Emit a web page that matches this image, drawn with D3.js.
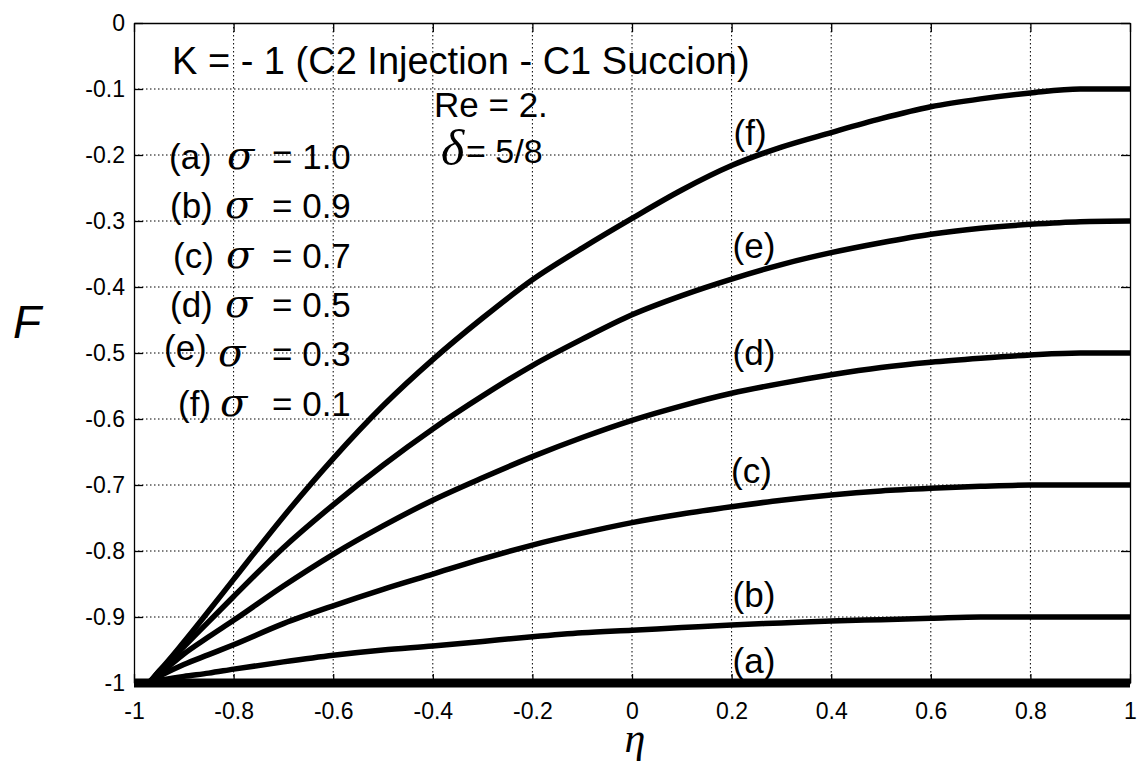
<!DOCTYPE html>
<html>
<head>
<meta charset="utf-8">
<script src="https://cdn.jsdelivr.net/npm/d3@7"></script>
<style>
	body { margin: 0; background: #fff; }
	svg { display: block; }
</style>
</head>
<body>
<svg id="chart" width="1137" height="763"></svg>
<script>
var eta = [-1, -0.975, -0.95, -0.9, -0.85, -0.8, -0.7, -0.6, -0.5, -0.4, -0.3, -0.2, -0.1, 0, 0.1, 0.2, 0.3, 0.4, 0.5, 0.6, 0.7, 0.8, 0.9, 1];

var curveA = [-1, -1, -1, -1, -1, -1, -1, -1, -1, -1, -1, -1, -1, -1, -1, -1, -1, -1, -1, -1, -1, -1, -1, -1];
var curveB = [-1, -1, -0.996, -0.99, -0.985, -0.979, -0.968, -0.958, -0.95, -0.944, -0.937, -0.93, -0.924, -0.92, -0.916, -0.912, -0.909, -0.906, -0.904, -0.902, -0.9, -0.9, -0.9, -0.9];
var curveC = [-1, -1, -0.99, -0.972, -0.957, -0.942, -0.91, -0.883, -0.858, -0.835, -0.812, -0.791, -0.773, -0.757, -0.744, -0.733, -0.723, -0.715, -0.709, -0.705, -0.702, -0.7, -0.7, -0.7];
var curveD = [-1, -1, -0.987, -0.956, -0.93, -0.905, -0.853, -0.805, -0.762, -0.723, -0.689, -0.657, -0.628, -0.602, -0.58, -0.561, -0.546, -0.533, -0.522, -0.514, -0.508, -0.503, -0.5, -0.5];
var curveE = [-1, -1, -0.983, -0.945, -0.907, -0.869, -0.795, -0.73, -0.67, -0.615, -0.565, -0.519, -0.479, -0.442, -0.413, -0.388, -0.366, -0.348, -0.333, -0.32, -0.311, -0.305, -0.301, -0.3];
var curveF = [-1, -1, -0.982, -0.938, -0.891, -0.843, -0.748, -0.66, -0.58, -0.51, -0.447, -0.389, -0.341, -0.296, -0.253, -0.216, -0.188, -0.166, -0.145, -0.127, -0.115, -0.106, -0.1, -0.1];

var curveTags = ["(a)", "(b)", "(c)", "(d)", "(e)", "(f)"];
var sigmaValues = ["1.0", "0.9", "0.7", "0.5", "0.3", "0.1"];
// where each curve tag sits (eta, F)
var tagEta = [0.245, 0.245, 0.24, 0.245, 0.245, 0.237];
var tagF = [-0.967, -0.867, -0.678, -0.499, -0.337, -0.167];

var xTicks = [-1, -0.8, -0.6, -0.4, -0.2, 0, 0.2, 0.4, 0.6, 0.8, 1];
var xTickLabels = ["-1", "-0.8", "-0.6", "-0.4", "-0.2", "0", "0.2", "0.4", "0.6", "0.8", "1"];
var yTicks = [0, -0.1, -0.2, -0.3, -0.4, -0.5, -0.6, -0.7, -0.8, -0.9, -1];
var yTickLabels = ["0", "-0.1", "-0.2", "-0.3", "-0.4", "-0.5", "-0.6", "-0.7", "-0.8", "-0.9", "-1"];

(function() {
	var svg = d3.select("#chart");
	var m = { left: 134, right: 1130, top: 23, bottom: 683 };
	var sans = '"Liberation Sans", Arial, sans-serif';
	var serif = '"Liberation Serif", "Times New Roman", serif';

	var x = d3.scaleLinear().domain([-1, 1]).range([m.left, m.right]);
	var y = d3.scaleLinear().domain([-1, 0]).range([m.bottom, m.top]);

	svg.append("rect")
		.attr("width", 1137)
		.attr("height", 763)
		.attr("fill", "#fff");

	// dotted grid
	var grid = svg.append("g").attr("class", "grid");
	grid.selectAll("line.gx")
		.data(xTicks.slice(1, -1))
		.enter().append("line")
		.attr("class", "gx")
		.attr("x1", d => x(d)).attr("x2", d => x(d))
		.attr("y1", m.top).attr("y2", m.bottom);
	grid.selectAll("line.gy")
		.data(yTicks.slice(1, -1))
		.enter().append("line")
		.attr("class", "gy")
		.attr("x1", m.left).attr("x2", m.right)
		.attr("y1", d => y(d)).attr("y2", d => y(d));
	grid.selectAll("line")
		.attr("stroke", "#000")
		.attr("stroke-width", 1)
		.attr("stroke-dasharray", "1.5,2.5");

	// axes, ticks pointing inwards like matlab
	svg.append("g")
		.attr("transform", "translate(0," + m.bottom + ")")
		.call(d3.axisBottom(x).tickValues(xTicks).tickFormat((d, i) => xTickLabels[i]).tickSize(-9).tickSizeOuter(0).tickPadding(20));
	svg.append("g")
		.attr("transform", "translate(0," + m.top + ")")
		.call(d3.axisTop(x).tickValues(xTicks).tickFormat("").tickSize(-9).tickSizeOuter(0));
	svg.append("g")
		.attr("transform", "translate(" + m.left + ",0)")
		.call(d3.axisLeft(y).tickValues(yTicks).tickFormat((d, i) => yTickLabels[i]).tickSize(-9).tickSizeOuter(0).tickPadding(9));
	svg.append("g")
		.attr("transform", "translate(" + m.right + ",0)")
		.call(d3.axisRight(y).tickValues(yTicks).tickFormat("").tickSize(-9).tickSizeOuter(0));

	svg.selectAll(".domain, .tick line")
		.attr("stroke", "#000")
		.attr("stroke-width", 1.3);
	svg.selectAll(".tick text")
		.attr("fill", "#000")
		.style("font-family", sans)
		.style("font-size", "23px");

	// curves
	var series = [curveA, curveB, curveC, curveD, curveE, curveF];
	var line = d3.line()
		.x((d, i) => x(eta[i]))
		.y(d => y(d))
		.curve(d3.curveMonotoneX);

	svg.append("g")
		.selectAll("path")
		.data(series)
		.enter().append("path")
		.attr("d", line)
		.attr("fill", "none")
		.attr("stroke", "#000")
		.attr("stroke-width", (d, i) => i == 0 ? 9 : 5.5)
		.attr("stroke-linejoin", "round");

	// curve tags
	svg.append("g")
		.selectAll("text")
		.data(curveTags)
		.enter().append("text")
		.attr("x", (d, i) => x(tagEta[i]))
		.attr("y", (d, i) => y(tagF[i]))
		.attr("dy", "0.35em")
		.attr("text-anchor", "middle")
		.style("font-family", sans)
		.style("font-size", "35px")
		.text(d => d);

	// legend block
	var tagX = [169, 170, 173, 170, 164, 178];
	var tagLift = [0, 0, 0, 0, 6, 0];
	var sigmaX = [227, 225, 226, 225, 218, 220];
	var legend = svg.append("g")
		.selectAll("text")
		.data(sigmaValues)
		.enter().append("text")
		.attr("y", (d, i) => 169 + i * 49.3)
		.style("font-family", sans)
		.style("font-size", "35px");
	legend.append("tspan")
		.attr("x", (d, i) => tagX[i])
		.attr("dy", (d, i) => -tagLift[i])
		.text((d, i) => curveTags[i]);
	legend.append("tspan")
		.attr("x", (d, i) => sigmaX[i])
		.attr("dy", (d, i) => tagLift[i])
		.style("font-family", '"DejaVu Serif", serif')
		.style("font-style", "italic")
		.style("font-size", "40px")
		.text("\u03c3");
	legend.append("tspan")
		.attr("x", 272)
		.text(d => "= " + d);

	// annotations
	svg.append("text")
		.attr("x", 172).attr("y", 74)
		.style("font-family", sans).style("font-size", "38px")
		.text("K = - 1 (C2 Injection - C1 Succion)");
	svg.append("text")
		.attr("x", 434).attr("y", 117)
		.style("font-family", sans).style("font-size", "35px")
		.text("Re = 2.");
	var delta = svg.append("text")
		.attr("x", 441).attr("y", 165)
		.style("font-family", sans).style("font-size", "34px");
	delta.append("tspan")
		.style("font-family", serif).style("font-style", "italic").style("font-size", "50px")
		.text("\u03b4");
	delta.append("tspan")
		.attr("x", 466).attr("dy", -2)
		.text("= 5/8");

	// axis labels
	svg.append("text")
		.attr("x", 13).attr("y", 338)
		.style("font-family", sans).style("font-style", "italic").style("font-size", "46px")
		.text("F");
	svg.append("text")
		.attr("x", 635).attr("y", 752)
		.attr("text-anchor", "middle")
		.style("font-family", serif).style("font-style", "italic").style("font-size", "42px")
		.text("\u03b7");
})();
</script>
</body>
</html>
